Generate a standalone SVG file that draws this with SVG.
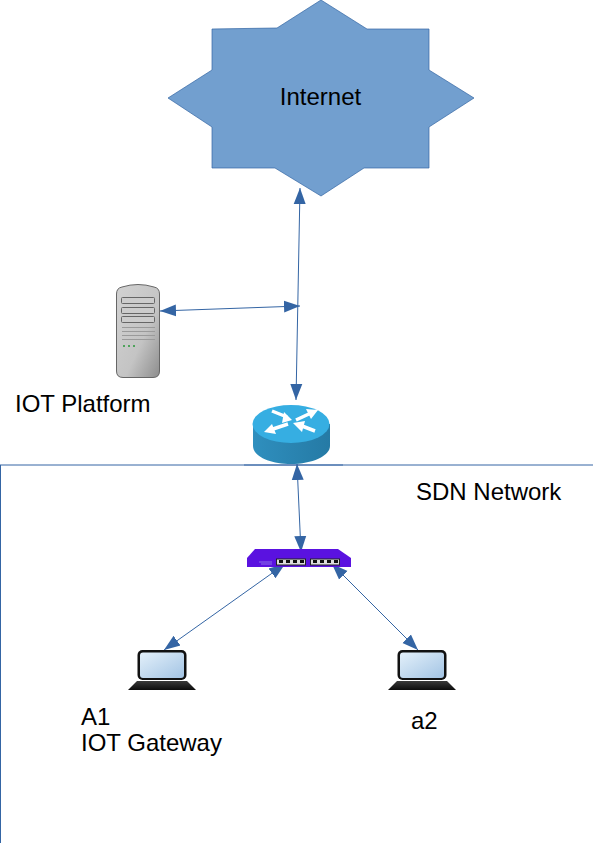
<svg xmlns="http://www.w3.org/2000/svg" width="593" height="843" viewBox="0 0 593 843">
<style>
text{font-family:"Liberation Sans",Arial,sans-serif;fill:#000;font-size:24px}
.c{stroke:#3465a4;stroke-width:1;fill:none;marker-start:url(#s);marker-end:url(#a)}
.b{stroke:#3465a4;stroke-width:1;fill:none}
.w{stroke:#fff;stroke-width:3.500;fill:none}
</style>
<defs>
<marker id="a" markerUnits="userSpaceOnUse" markerWidth="18" markerHeight="14" viewBox="0 0 18 14" refX="16" refY="7" orient="auto"><path d="M0 1L16 7L0 13z" fill="#3465a4"/></marker>
<marker id="s" markerUnits="userSpaceOnUse" markerWidth="18" markerHeight="14" viewBox="0 0 18 14" refX="2" refY="7" orient="auto"><path d="M18 1L2 7L18 13z" fill="#3465a4"/></marker>
<linearGradient id="srv" x1="0" y1="0" x2="1" y2="1"><stop offset="0" stop-color="#d2d2d2"/><stop offset="0.600" stop-color="#c4c4c4"/><stop offset="1" stop-color="#8d8d8d"/></linearGradient>
<linearGradient id="scr" x1="0" y1="0" x2="1" y2="1"><stop offset="0" stop-color="#e3f0fa"/><stop offset="1" stop-color="#a3c4e4"/></linearGradient>
<linearGradient id="rt" x1="0" y1="0" x2="1" y2="0"><stop offset="0" stop-color="#2f8fbe"/><stop offset="1" stop-color="#257aa5"/></linearGradient>
<linearGradient id="base" x1="0" y1="0" x2="0" y2="1"><stop offset="0" stop-color="#3a3a3a"/><stop offset="1" stop-color="#0c0c0c"/></linearGradient>
</defs>
<g id="connectors">
<path class="b" d="M0 465H593M0.500 465V843"/>
<path class="c" d="M296 400L300 188"/>
<path class="c" d="M160 311L300 306"/>
<path class="c" d="M301 552L297 464"/>
<path class="c" d="M285 564L164 650"/>
<path class="c" d="M332 564L418 650"/>
</g>
<g id="internet">
<polygon points="321,0 367,29 429,29 429,70 474,98 429,127 429,168 364,168 321,196 275,168 212,168 212,127 168,98 212,70 212,29 277,28" fill="#729fcf" stroke="#3465a4" stroke-width="0.700"/>
<text x="320.500" y="105" text-anchor="middle">Internet</text>
</g>
<g id="iot-platform">
<path d="M116.500 294Q116.500 288 122 287Q138 282 154 287Q159.500 288 159.500 294V371Q159.500 377.500 153 377.500H123Q116.500 377.500 116.500 371z" fill="url(#srv)" stroke="#666"/>
<rect x="121.500" y="297.500" width="33" height="6" rx="1" fill="#ccc" stroke="#666"/>
<rect x="121.500" y="307.500" width="33" height="6" rx="1" fill="#ccc" stroke="#666"/>
<rect x="121.500" y="316.500" width="33" height="6" rx="1" fill="#ccc" stroke="#666"/>
<path d="M122 327.500H155M122 331.500H155M122 335.500H155M122 339.500H155" stroke="#9a9a9a"/>
<path d="M123 346H125M128 346H130M133 346H135" stroke="#4fa35c" stroke-width="2"/>
<text x="15" y="412">IOT Platform</text>
</g>
<g id="router">
<path d="M253 424V446C253 456 270 464 291 464S330 456 330 446V424z" fill="url(#rt)"/>
<ellipse cx="291" cy="424" rx="38.500" ry="19" fill="#36aee2"/>
<path class="w" d="M272 411L287 417M296 420L311 413M288 424L273 429M302 426L315 431"/>
<path d="M292 420L282 423L284 412zM318 410L306 409L311 419zM264 432L276 434L272 424zM293 423L305 421L302 432z" fill="#fff"/>
<path d="M244 465H343" stroke="#3465a4" stroke-width="1.500" opacity="0.600"/>
</g>
<g id="switch">
<path d="M255 549H338L351 558V567H247V558z" fill="#5a12e0"/>
<rect x="276.500" y="559" width="29" height="6" fill="#ddd" stroke="#222"/>
<rect x="310.500" y="559" width="29" height="6" fill="#ddd" stroke="#222"/>
<path d="M279 560h4v3h-4zM286 560h4v3h-4zM293 560h4v3h-4zM300 560h4v3h-4zM313 560h4v3h-4zM320 560h4v3h-4zM327 560h4v3h-4zM334 560h4v3h-4z" fill="#111"/>
<path d="M259 562H272M261 564H272" stroke="#8a70e8"/>
</g>
<g id="a1">
<rect x="137.500" y="650" width="49" height="30" rx="5" fill="#111"/>
<rect x="140" y="652.500" width="44" height="25.500" rx="3" fill="url(#scr)"/>
<path d="M137 681H187L196 690H128z" fill="url(#base)"/>
<text x="81" y="725">A1</text>
<text x="81" y="751">IOT Gateway</text>
</g>
<g id="a2">
<rect x="397.500" y="650" width="49" height="30" rx="5" fill="#111"/>
<rect x="400" y="652.500" width="44" height="25.500" rx="3" fill="url(#scr)"/>
<path d="M397 681H447L456 690H388z" fill="url(#base)"/>
<text x="411" y="729">a2</text>
</g>
<text x="416" y="500">SDN Network</text>
</svg>
